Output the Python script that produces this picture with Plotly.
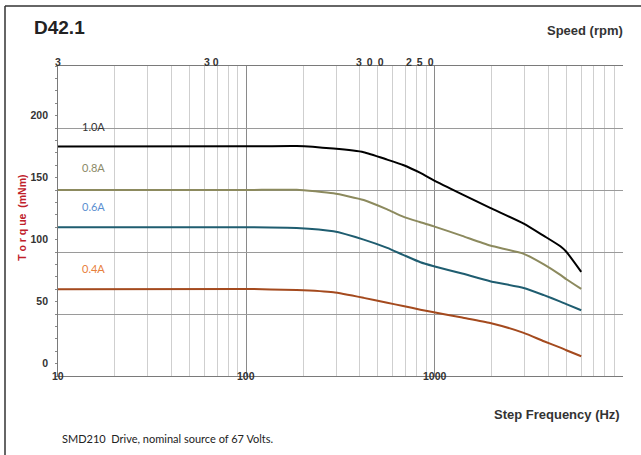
import plotly.graph_objects as go

# step frequency (Hz)
freq_hz = [10, 100, 185, 290, 420, 560, 680, 840, 990, 1400, 1970, 2970, 3800, 4650, 5000, 6000]

# torque (mNm) per drive current
torque_10a = [175, 175.2, 175.5, 173.4, 170.5, 164.5, 160.2, 153.8, 147.8, 136.5, 125.6, 112.9, 103, 94.6, 90.2, 74]
torque_08a = [140, 140, 140.2, 137.3, 132, 124.4, 118.5, 114, 110.7, 103, 95.2, 88.5, 80, 71.5, 68, 60.2]
torque_06a = [110, 110, 109.4, 106.7, 100, 93.3, 87.7, 81.7, 78.5, 72.6, 66.4, 61, 55.2, 50, 47.9, 43]
torque_04a = [60, 60.2, 59.3, 57.5, 53, 49, 46.5, 43.5, 41.4, 37.1, 32.8, 24.8, 18, 12.9, 10.8, 5.9]

series_names = ["1.0A", "0.8A", "0.6A", "0.4A"]
line_colors = ["#000000", "#8c8a5e", "#1f5d70", "#a44a1e"]
label_colors = ["#333333", "#8b8a68", "#5b8fd0", "#e8803c"]
label_y = [191, 158.3, 127.1, 76.9]

# top axis (speed, rpm) labels as printed, with their log10(Hz) positions
rpm_labels = ["3", "3 0", "3\u2009 0\u2009 0", "2\u2009 5\u2009 0", "3000"]
rpm_pos = [1.0, 1.8125, 2.657, 2.922, 4.02]

freq_labels = ["10", "100", "1000"]
freq_pos = [1, 2, 3]

bold = "Liberation Sans, Arial, sans-serif"
soft = "Lato, sans-serif"

fig = go.Figure()

all_torque = [torque_10a, torque_08a, torque_06a, torque_04a]
for name, ys, col in zip(series_names, all_torque, line_colors):
    fig.add_trace(go.Scatter(x=freq_hz, y=ys, mode="lines", name=name,
                             line=dict(color=col, width=2, shape="spline", smoothing=0.5),
                             showlegend=False, hoverinfo="skip"))
# empty trace so the label axis gets drawn
fig.add_trace(go.Scatter(x=[], y=[], yaxis="y2", showlegend=False, hoverinfo="skip"))

ann = []
for name, yv, col in zip(series_names, label_y, label_colors):
    ann.append(dict(x=1.186, y=yv, xref="x", yref="y", text=name, showarrow=False,
                    font=dict(family=soft, size=11, color=col)))

for t, p in zip(rpm_labels, rpm_pos):
    ann.append(dict(x=p, y=1.0387, xref="x", yref="paper", text=t, showarrow=False,
                    font=dict(family=bold, size=10.5, color="#333333", weight="bold")))

for t, p in zip(freq_labels, freq_pos):
    ann.append(dict(x=p, y=0, xref="x", yref="paper", text=t, showarrow=False, yanchor="middle",
                    font=dict(family=bold, size=10.5, color="#333333", weight="bold")))
ann.append(dict(x=4.003, y=-0.042, xref="x", yref="paper", text="10000", showarrow=False,
                yanchor="middle", font=dict(family=bold, size=10.5, color="#333333", weight="bold")))

ann += [
    dict(x=-0.046, y=1.1258, xref="paper", yref="paper", text="D42.1", showarrow=False,
         xanchor="left", yanchor="middle", font=dict(family=bold, size=19, color="#222222", weight="bold")),
    dict(x=1.0035, y=1.116, xref="paper", yref="paper", text="Speed (rpm)", showarrow=False,
         xanchor="right", yanchor="middle", font=dict(family=bold, size=13, color="#333333", weight="bold")),
    dict(x=0.998, y=-0.1226, xref="paper", yref="paper", text="Step Frequency (Hz)", showarrow=False,
         xanchor="right", yanchor="middle", font=dict(family=bold, size=13, color="#333333", weight="bold")),
    dict(x=0.0035, y=-0.2032, xref="paper", yref="paper", text="SMD210  Drive, nominal source of 67 Volts.",
         showarrow=False, xanchor="left", yanchor="middle", font=dict(family=soft, size=11, color="#222222")),
    dict(x=-0.078, y=0.51, xref="paper", yref="paper", text="T o r q ue  (mNm)", showarrow=False,
         textangle=-90, font=dict(family=bold, size=10.5, color="#c0202a", weight="bold")),
]

fig.update_layout(
    width=641, height=455,
    margin=dict(l=58, r=18, t=66, b=79),
    paper_bgcolor="white", plot_bgcolor="white",
    annotations=ann,
    xaxis=dict(type="log", range=[1, 4], dtick=1, showticklabels=False,
               showgrid=True, gridcolor="#8a8a8a", gridwidth=1,
               minor=dict(dtick="D1", showgrid=True, gridcolor="#cfcfcf", gridwidth=1),
               showline=True, mirror=True, linecolor="#7a7a7a", linewidth=1, zeroline=False),
    yaxis=dict(range=[-10, 240], tickmode="linear", tick0=-10, dtick=50, showticklabels=False,
               showgrid=True, gridcolor="#9a9a9a", gridwidth=1,
               ticks="outside", ticklen=2, tickcolor="#888888",
               minor=dict(dtick=10, ticks="outside", ticklen=2, tickcolor="#888888", showgrid=False),
               showline=True, linecolor="#7a7a7a", linewidth=1, zeroline=False),
    yaxis2=dict(range=[-10, 240], overlaying="y", side="left", tickmode="linear", tick0=0, dtick=50,
                showgrid=False, zeroline=False, ticks="", ticklabelstandoff=9,
                tickfont=dict(family=bold, size=10.5, color="#333333", weight="bold")),
    shapes=[
        dict(type="line", xref="paper", yref="paper", x0=-0.0938, x1=-0.0938, y0=1.1935, y1=-0.26,
             line=dict(color="#333333", width=1.5)),
        dict(type="line", xref="paper", yref="paper", x0=-0.0938, x1=1.04, y0=1.1935, y1=1.1935,
             line=dict(color="#333333", width=1.5)),
    ],
)

fig.write_html("out.html", config={"displayModeBar": False},
               post_script="document.body.style.margin = '0';")
